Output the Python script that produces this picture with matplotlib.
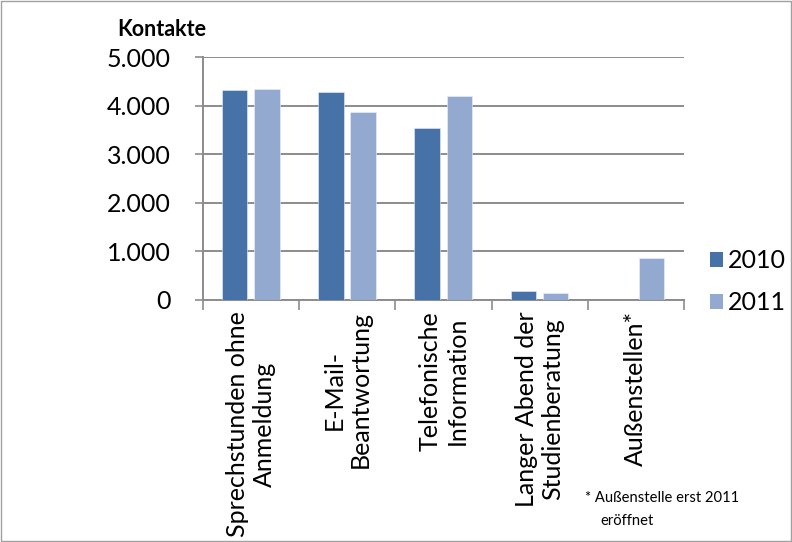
import matplotlib
matplotlib.use("Agg")
import matplotlib.pyplot as plt
import numpy as np
from matplotlib.ticker import FuncFormatter
from matplotlib.patches import Rectangle, Patch

plt.rcParams['font.family'] = ['Lato', 'DejaVu Sans']

categories = ["Sprechstunden ohne\nAnmeldung", "E-Mail-\nBeantwortung",
              "Telefonische\nInformation", "Langer Abend der\nStudienberatung",
              "Außenstellen*"]
years = ["2010", "2011"]
values_2010 = [4320, 4280, 3545, 190, 0]
values_2011 = [4350, 3860, 4195, 145, 855]
yticks = [0, 1000, 2000, 3000, 4000, 5000]

c2010 = "#4672A7"
c2011 = "#94A9D0"
grid_c = "#8C8C8C"

fig = plt.figure(figsize=(7.92, 5.42), dpi=100)
fig.patches.append(Rectangle((0.001, 0.001), 0.998, 0.998, transform=fig.transFigure,
                             fill=False, edgecolor="#A0A0A0", linewidth=1.0))
ax = fig.add_axes([0.2563, 0.4465, 0.6073, 0.4483])

x = np.arange(len(categories))
w = 0.265
ax.bar(x - 0.17, values_2010, width=w, color=c2010, edgecolor="#E8EEF6", linewidth=0.4, zorder=3, label=years[0])
ax.bar(x + 0.165, values_2011, width=w, color=c2011, edgecolor="#EEF2F8", linewidth=0.4, zorder=3, label=years[1])

ax.set_xlim(-0.5, len(categories) - 0.5)
ax.set_ylim(0, 5000)
ax.set_yticks(yticks)
ax.yaxis.set_major_formatter(FuncFormatter(lambda v, p: f"{int(v):,}".replace(",", ".")))
ax.grid(axis="y", color=grid_c, linewidth=1.4, zorder=0)
ax.tick_params(axis="y", labelsize=18, length=6, width=1.2, color=grid_c, pad=17)

ax.set_xticks(np.arange(len(categories) + 1) - 0.5)
ax.set_xticklabels([])
ax.tick_params(axis="x", which="major", length=7, width=1.2, color=grid_c)
ax.set_xticks(x, minor=True)
ax.set_xticklabels(categories, minor=True, rotation=90, fontsize=18,
                   ha="center", va="top", multialignment="center")
ax.tick_params(axis="x", which="minor", length=0, pad=8)

for s in ["top", "right"]:
    ax.spines[s].set_visible(False)
for s in ["left", "bottom"]:
    ax.spines[s].set_color(grid_c)
    ax.spines[s].set_linewidth(1.4)

fig.text(117 / 792, 1 - 30 / 542, "Kontakte", fontsize=15.5, fontweight="bold", va="center", ha="left")

handles = [Patch(facecolor=c2010), Patch(facecolor=c2011)]
fig.legend(handles, years, loc="upper left", bbox_to_anchor=(697 / 792, 1 - 237 / 542),
           frameon=False, fontsize=18, handlelength=0.55, handleheight=0.55,
           handletextpad=0.2, labelspacing=0.75, borderpad=0)

fig.text(585 / 792, 1 - 498 / 542, "* Außenstelle erst 2011", fontsize=10.6, va="center", ha="left")
fig.text(600 / 792, 1 - 521 / 542, "eröffnet", fontsize=10.6, va="center", ha="left")

fig.savefig("out.png", dpi=100)
